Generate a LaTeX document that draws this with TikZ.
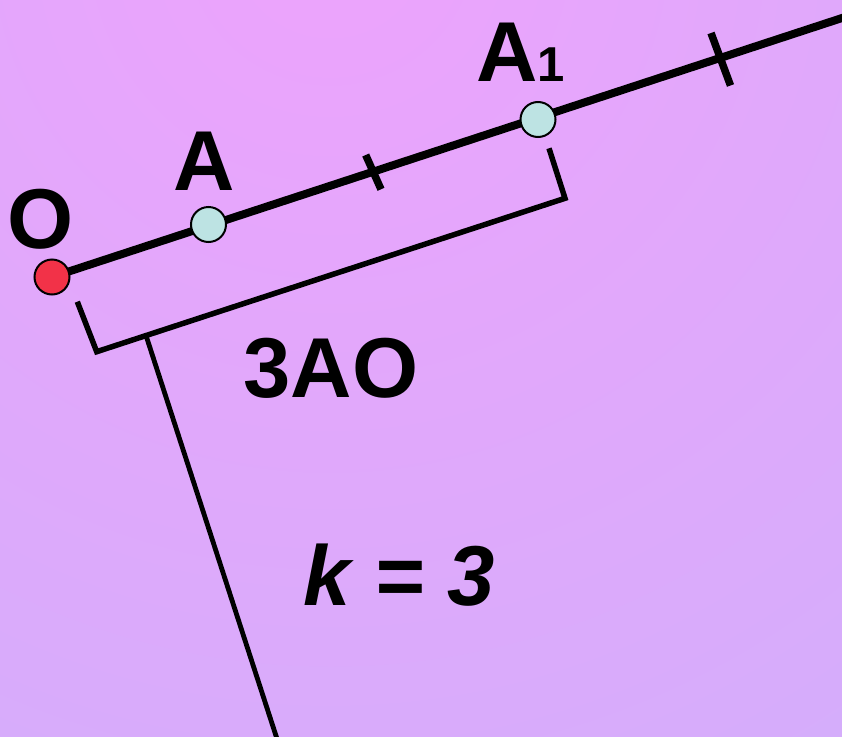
\documentclass[tikz,border=0pt]{standalone}
\usepackage{fontspec}
\setmainfont{Liberation Sans}
\pgfdeclarelayer{back}
\pgfdeclarelayer{mid}
\pgfsetlayers{back,mid,main}
\definecolor{bgpink}{RGB}{237,163,252}
\definecolor{bglav}{RGB}{200,178,250}
\definecolor{ptred}{RGB}{242,50,72}
\definecolor{ptcyan}{RGB}{189,227,227}
\pgfdeclareradialshading{bgshade}{\pgfpoint{0bp}{0bp}}{color(0bp)=(bgpink); color(33bp)=(bglav); color(50bp)=(bglav)}
\tikzset{
  pt/.style={circle, draw=black, line width=2pt, minimum size=35pt, inner sep=0pt},
  ray/.style={line width=8pt},
  tick/.style={line width=7.5pt},
  brk/.style={line width=5.5pt, line join=miter},
  kline/.style={line width=4.8pt},
  lbl/.style={font=\fontsize{85}{100}\selectfont\bfseries, inner sep=0pt, text=black},
}
\begin{document}
\begin{tikzpicture}[x=1pt,y=-1pt]
\useasboundingbox (0,0) rectangle (842,736);
\begin{pgfonlayer}{back}
  \clip (0,0) rectangle (842,736);
  \shade[shading=bgshade] (330,-60) circle (1100);
\end{pgfonlayer}
% points
\node[pt, fill=ptred] (O) at (52,277) {};
\node[pt, fill=ptcyan] (A) at (208.5,224.5) {};
\node[pt, fill=ptcyan] (A1) at (538,119.5) {};
\coordinate (rayend) at (850,15.4);
% ticks
\coordinate (t1a) at (365.7,155);
\coordinate (t1b) at (381,189.3);
\coordinate (t2a) at (711,33);
\coordinate (t2b) at (730.5,85.5);
% bracket
\coordinate (b1) at (77.3,301.7);
\coordinate (b2) at (96.7,351.7);
\coordinate (b3) at (565,198.3);
\coordinate (b4) at (549,148.3);
\coordinate (kstart) at (146,335.5);
\coordinate (kend) at (279,745);
\begin{pgfonlayer}{mid}
  \draw[ray] (O.center) -- (rayend);
  \draw[tick] (t1a) -- (t1b);
  \draw[tick] (t2a) -- (t2b);
  \draw[brk] (b1) -- (b2) -- (b3) -- (b4);
  \draw[kline] (kstart) -- (kend);
\end{pgfonlayer}
% labels
\node[lbl, anchor=base] (lO) at (40.5,248) {O};
\node[lbl, anchor=base] (lA) at (204,190) {A};
\node[lbl, anchor=base west] (lA1) at (476,81.7) {A\fontsize{49}{50}\selectfont 1};
\node[lbl, anchor=base] (l3AO) at (331,397) {3AO};
\node[lbl, anchor=base] (lk) at (399,605) {\itshape k = 3};
\end{tikzpicture}
\end{document}
